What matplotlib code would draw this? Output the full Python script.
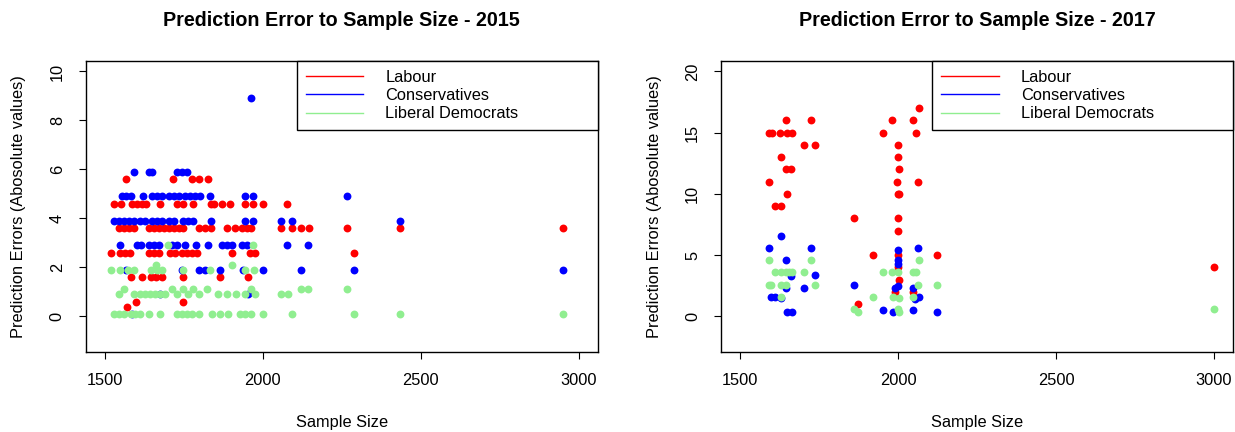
import numpy as np
import matplotlib
matplotlib.use('Agg')
import matplotlib.pyplot as plt

# ══════════════════════════════════════════════════════════════════════════════
# DATA  (sample size vs absolute prediction error)
# ══════════════════════════════════════════════════════════════════════════════
# 2015 — Labour
lab15_x = [1566, 1716, 1776, 1797, 1826,
           1531, 1552, 1587, 1603, 1619, 1632, 1676, 1729, 1749, 1781, 1836, 1846,
           1870, 1896, 1943, 1970, 2001, 2077,
           1545, 1561, 1576, 1592, 1639, 1655, 1671, 1687, 1702, 1718, 1734, 1749,
           1797, 1818, 1836, 1886, 1912, 1933, 1949, 1964, 2057, 2092, 2122, 2146,
           2266, 2436, 2950,
           1521, 1548, 1563, 1580, 1639, 1655, 1671, 1708, 1723, 1744, 1760, 1776,
           1791, 1902, 1959, 1975, 2289,
           1582, 1619, 1647, 1664, 1681, 1747, 1865, 1954,
           1598, 1747, 1571]
lab15_y = [5.6, 5.6, 5.6, 5.6, 5.6,
           4.6, 4.6, 4.6, 4.6, 4.6, 4.6, 4.6, 4.6, 4.6, 4.6, 4.6, 4.6,
           4.6, 4.6, 4.6, 4.6, 4.6, 4.6,
           3.6, 3.6, 3.6, 3.6, 3.6, 3.6, 3.6, 3.6, 3.6, 3.6, 3.6, 3.6,
           3.6, 3.6, 3.6, 3.6, 3.6, 3.6, 3.6, 3.6, 3.6, 3.6, 3.6, 3.6,
           3.6, 3.6, 3.6,
           2.6, 2.6, 2.6, 2.6, 2.6, 2.6, 2.6, 2.6, 2.6, 2.6, 2.6, 2.6,
           2.6, 2.6, 2.6, 2.6, 2.6,
           1.6, 1.6, 1.6, 1.6, 1.6, 1.6, 1.6, 1.6,
           0.6, 0.6, 0.4]

# 2015 — Conservatives
con15_x = [1964,
           1592, 1639, 1650, 1729, 1744, 1760,
           1556, 1569, 1584, 1622, 1650, 1666, 1681, 1702, 1718, 1734, 1755, 1770,
           1786, 1802, 1833, 1943, 1970, 2266,
           1529, 1545, 1561, 1576, 1592, 1613, 1629, 1650, 1666, 1681, 1702, 1718,
           1749, 1765, 1781, 1836, 1943, 1970, 2057, 2092, 2436,
           1548, 1603, 1615, 1639, 1655, 1673, 1713, 1729, 1755, 1789, 1828, 1870,
           1886, 1902, 1936, 1951, 2077, 2143,
           1566, 1744, 1797, 1818, 1865, 1938, 2001, 2121, 2289, 2950,
           1676, 1954, 1587]
con15_y = [8.9,
           5.9, 5.9, 5.9, 5.9, 5.9, 5.9,
           4.9, 4.9, 4.9, 4.9, 4.9, 4.9, 4.9, 4.9, 4.9, 4.9, 4.9, 4.9,
           4.9, 4.9, 4.9, 4.9, 4.9, 4.9,
           3.9, 3.9, 3.9, 3.9, 3.9, 3.9, 3.9, 3.9, 3.9, 3.9, 3.9, 3.9,
           3.9, 3.9, 3.9, 3.9, 3.9, 3.9, 3.9, 3.9, 3.9,
           2.9, 2.9, 2.9, 2.9, 2.9, 2.9, 2.9, 2.9, 2.9, 2.9, 2.9, 2.9,
           2.9, 2.9, 2.9, 2.9, 2.9, 2.9,
           1.9, 1.9, 1.9, 1.9, 1.9, 1.9, 1.9, 1.9, 1.9, 1.9,
           0.9, 0.9, 0.1]

# 2015 — Liberal Democrats
lib15_x = [1700, 1970,
           1664, 1902,
           1521, 1548, 1573, 1592, 1647, 1666, 1681, 1749, 1833, 1943, 1972,
           1561, 1713, 1749, 1781, 1823, 1964, 2121, 2143, 2266,
           1545, 1592, 1613, 1629, 1645, 1660, 1676, 1692, 1729, 1765, 1797, 1860,
           1886, 1917, 1943, 1975, 2059, 2080,
           1529, 1545, 1561, 1582, 1597, 1613, 1639, 1676, 1729, 1744, 1760, 1776,
           1797, 1839, 1865, 1891, 1928, 1943, 1964, 2001, 2092, 2289, 2436, 2950]
lib15_y = [2.9, 2.9,
           2.1, 2.1,
           1.9, 1.9, 1.9, 1.9, 1.9, 1.9, 1.9, 1.9, 1.9, 1.9, 1.9,
           1.1, 1.1, 1.1, 1.1, 1.1, 1.1, 1.1, 1.1, 1.1,
           0.9, 0.9, 0.9, 0.9, 0.9, 0.9, 0.9, 0.9, 0.9, 0.9, 0.9, 0.9,
           0.9, 0.9, 0.9, 0.9, 0.9, 0.9,
           0.1, 0.1, 0.1, 0.1, 0.1, 0.1, 0.1, 0.1, 0.1, 0.1, 0.1, 0.1,
           0.1, 0.1, 0.1, 0.1, 0.1, 0.1, 0.1, 0.1, 0.1, 0.1, 0.1, 0.1]

# 2017 — Labour
lab17_x = [2066, 1645, 1725, 1981, 2046, 1592, 1600, 1627, 1650, 1666, 1954, 2057,
           1702, 1739, 2001, 1630, 2001, 1645, 1660, 2004, 1592, 1997, 2063,
           1650, 2001, 2004, 1611, 1631, 1860, 2001, 2001, 1922, 2124, 2000,
           2001, 2004, 1990, 2046, 1872, 3000]
lab17_y = [17, 16, 16, 16, 16, 15, 15, 15, 15, 15, 15, 15,
           14, 14, 14, 13, 13, 12, 12, 12, 11, 11, 11,
           10, 10, 10, 9, 9, 8, 8, 7, 5, 5, 5,
           4, 3, 2, 2, 1, 4]

# 2017 — Conservatives
con17_x = [1630, 1592, 1725, 2001, 2063, 1645, 2001, 2001, 1660, 1739, 1645, 1702,
           1860, 1990, 2001, 2046, 1597, 1611, 1629, 2066, 2054, 1650, 1666, 1954,
           1983, 2046, 2124]
con17_y = [6.6, 5.6, 5.6, 5.4, 5.6, 4.6, 4.6, 4.3, 3.3, 3.4, 2.3, 2.3,
           2.6, 2.3, 2.5, 2.3, 1.6, 1.6, 1.5, 1.6, 1.4, 0.4, 0.4, 0.55,
           0.4, 0.55, 0.4]

# 2017 — Liberal Democrats
lib17_x = [1592, 1725, 2066, 1611, 1629, 1645, 1655, 1666, 1702, 1954, 1981, 2001,
           2046, 2057, 1592, 1597, 1631, 1645, 1739, 2063, 2124, 1629, 1922, 1983,
           2004, 2046, 1860, 1872, 2001, 2004, 3000]
lib17_y = [4.6, 4.6, 4.6, 3.6, 3.6, 3.6, 3.6, 3.6, 3.6, 3.6, 3.6, 3.6,
           3.6, 3.6, 2.6, 2.6, 2.6, 2.6, 2.6, 2.6, 2.6, 1.6, 1.6, 1.6,
           1.5, 1.6, 0.6, 0.4, 0.6, 0.4, 0.6]

PARTIES = ['Labour', 'Conservatives', 'Liberal Democrats']
COLORS  = ['#FF0000', '#0000FF', '#90EE90']

panels = [
    ('2015', [(lab15_x, lab15_y), (con15_x, con15_y), (lib15_x, lib15_y)], (-1, 10), np.arange(0, 11, 2)),
    ('2017', [(lab17_x, lab17_y), (con17_x, con17_y), (lib17_x, lib17_y)], (-2, 20), np.arange(0, 21, 5)),
]

# ══════════════════════════════════════════════════════════════════════════════
# FIGURE  (R base-graphics look)
# ══════════════════════════════════════════════════════════════════════════════
plt.rcParams['font.family'] = ['Liberation Sans', 'DejaVu Sans']

W, H = 1235, 432
fig = plt.figure(figsize=(W / 100, H / 100), dpi=100)

ax_left_px = [85.7, 721]
ax_w_px, ax_top_px, ax_bot_px = 512, 60.7, 351.7
ax_h_px = ax_bot_px - ax_top_px

def _r_lim(lo, hi):
    # R pads the axis range by 4% on each side
    pad = 0.04 * (hi - lo)
    return lo - pad, hi + pad

for (year, series, ylim, yticks), lpx in zip(panels, ax_left_px):
    ax = fig.add_axes([lpx / W, 1 - ax_bot_px / H, ax_w_px / W, ax_h_px / H])

    for (xs, ys), clr in zip(series, COLORS):
        ax.scatter(xs, ys, s=32, color=clr, linewidths=0, zorder=3)

    ax.set_xlim(*_r_lim(1500, 3000))
    ax.set_ylim(*_r_lim(*ylim))
    ax.set_xticks([1500, 2000, 2500, 3000])
    ax.set_yticks(yticks)
    ax.tick_params(direction='out', length=5, width=0.8, labelsize=11.8, pad=10)
    for lbl in ax.get_yticklabels():
        lbl.set_rotation(90)
        lbl.set_va('center')
    for sp in ax.spines.values():
        sp.set_linewidth(1.0)

    ax.set_title(f'Prediction Error to Sample Size - {year}', fontsize=14.2,
                 fontweight='bold', y=1 + 40 / ax_h_px, va='center', pad=0)
    ax.set_xlabel('Sample Size', fontsize=11.8)
    ax.xaxis.set_label_coords(0.5, -71 / ax_h_px)
    ax.xaxis.label.set_va('center')
    ax.set_ylabel('Prediction Errors (Abosolute values)', fontsize=11.8)
    ax.yaxis.set_label_coords(-67 / ax_w_px, 0.5)
    ax.yaxis.label.set_va('center')

    handles = [plt.Line2D([], [], color=c, lw=1) for c in COLORS]
    leg = ax.legend(handles, PARTIES, loc='upper right', mode='expand',
                    bbox_to_anchor=(0.4125, 0.5, 0.5875, 0.5), borderaxespad=0,
                    fontsize=11.8, frameon=True, fancybox=False, framealpha=1,
                    edgecolor='black', handlelength=3.5, handletextpad=1.35,
                    labelspacing=0.2, borderpad=0.55)
    leg.get_frame().set_linewidth(1.0)

fig.savefig('out.png', dpi=100)
